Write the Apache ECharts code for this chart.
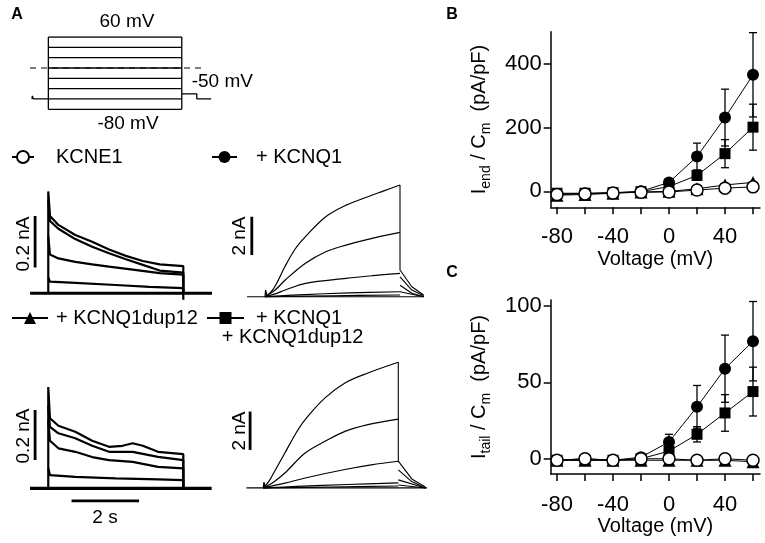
<!DOCTYPE html>
<html lang="en">
<head>
<meta charset="UTF-8">
<title>KCNE1 / KCNQ1 currents</title>
<script src="https://cdn.jsdelivr.net/npm/echarts@6/dist/echarts.min.js"></script>
<style>
  html, body { margin: 0; padding: 0; background: #fff; }
  #chart { width: 765px; height: 543px; }
</style>
</head>
<body>
<div id="chart"></div>
<script>
// ---- data ----
var voltages = [-80, -60, -40, -20, 0, 20, 40, 60];
var voltTicks = [-80, -60, -40, -20, 0, 20, 40, 60];
var voltLabels = [-80, -40, 0, 40];

// panel B: I_end / Cm (pA/pF)
var endKCNE1 = [-10, -8, -5, -3, -2, 4, 10, 14];
var endDup12 = [-12, -10, -6, -2, 0, 8, 20, 28];
var endKCNQ1 = [-8, -7, -5, 0, 28, 109, 231, 365];
var endKCNQ1Err = [3, 3, 3, 3, 6, 42, 89, 132];
var endCombo = [-6, -6, -4, -1, 15, 50, 118, 201];
var endComboErr = [3, 3, 3, 3, 5, 15, 44, 72];

// panel C: I_tail / Cm (pA/pF)
var tailKCNE1 = [-1, 0, -1, 0, 0, -1, 0, -1];
var tailDup12 = [-1, -1, -1, -1, -1, -1, -1, -2];
var tailKCNQ1 = [-1, 0, -1, 1, 11, 34, 59, 77];
var tailKCNQ1Err = [1, 1, 1, 1, 5, 14, 22, 26];
var tailCombo = [-1, -1, -1, 0, 5, 16, 30, 44];
var tailComboErr = [1, 1, 1, 1, 2, 5, 12, 16];

// voltage protocol (mV)
var protoLevels = [-80, -60, -40, -20, 0, 20, 40, 60];
var protoHold = [[-0.49, -60], [-0.48, -54], [-0.46, -53], [-0.45, -60], [0, -60]];
var protoTail = [[4, -50], [4.45, -50], [4.45, -60], [4.88, -60]];
var protoZero = [[-0.55, 0], [4.7, 0]];

// current traces [time s, current nA]
// KCNE1 alone
var e1T1 = [[0, 0], [0, 0.395], [0.05, 0.30], [0.3, 0.265], [0.8, 0.226], [1.3, 0.20], [1.8, 0.17], [2.3, 0.145], [2.8, 0.125], [3.3, 0.112], [4, 0.105], [4, -0.025]];
var e1T2 = [[0, 0.36], [0.05, 0.28], [0.3, 0.25], [0.8, 0.21], [1.3, 0.18], [1.8, 0.155], [2.3, 0.132], [2.8, 0.11], [3.3, 0.088], [4, 0.08], [4, 0]];
var e1T3 = [[0, 0.22], [0.05, 0.15], [0.3, 0.135], [0.8, 0.122], [1.3, 0.112], [1.8, 0.103], [2.5, 0.092], [3.3, 0.078], [4, 0.072], [4, 0]];
var e1T4 = [[0, 0.06], [0.05, 0.045], [0.8, 0.04], [2.0, 0.032], [3.0, 0.025], [4, 0.02], [4, 0]];
var e1Base = [[-0.54, 0], [4.85, 0]];
// + KCNQ1 (rising phase, then tail at -50 mV)
var q1Blip = [[0, 0], [0.02, 0.35], [0.06, 0.05]];
var q1T1 = [[0, 0], [0.15, 0.2], [0.3, 0.55], [0.6, 1.6], [0.9, 2.5], [1.2, 3.13], [1.8, 4.17], [2.4, 4.77], [3.05, 5.21], [3.5, 5.5], [4, 5.82]];
var q1T2 = [[0, 0], [0.3, 0.35], [0.6, 0.87], [1.2, 1.74], [1.8, 2.34], [2.4, 2.69], [3.05, 2.99], [4, 3.35]];
var q1T3 = [[0, 0], [0.3, 0.15], [0.6, 0.35], [1.2, 0.7], [2.4, 0.96], [3.2, 1.1], [4, 1.22]];
var q1T4 = [[0, 0], [1, 0.1], [2.5, 0.2], [4, 0.26]];
var q1T5 = [[0, 0], [2, 0.05], [4, 0.09]];
var q1Tail1 = [[4, 5.82], [4, 1.39], [4.35, 0.52], [4.7, 0.09]];
var q1Tail2 = [[4, 1.04], [4.35, 0.35], [4.7, 0.05]];
var q1Tail3 = [[4, 0.6], [4.35, 0.18], [4.7, 0]];
var q1Tail4 = [[4, 0.26], [4, 0.2], [4.7, 0]];
var q1Base = [[-0.53, 0], [4.7, 0]];
// + KCNQ1dup12
var dT1 = [[0, 0], [0, 0.405], [0.05, 0.28], [0.3, 0.25], [0.8, 0.226], [1.3, 0.19], [1.8, 0.166], [2.2, 0.17], [2.5, 0.18], [2.8, 0.17], [3.25, 0.146], [4, 0.137], [4, 0]];
var dT2 = [[0, 0.33], [0.05, 0.246], [0.3, 0.22], [0.8, 0.2], [1.3, 0.17], [1.8, 0.146], [2.5, 0.146], [3.25, 0.126], [4, 0.113], [4, 0]];
var dT3 = [[0, 0.27], [0.05, 0.19], [0.3, 0.16], [0.8, 0.146], [1.3, 0.125], [1.8, 0.113], [2.5, 0.106], [3.25, 0.086], [4, 0.08], [4, 0]];
var dT4 = [[0, 0.08], [0.05, 0.053], [0.8, 0.046], [2.0, 0.04], [3.25, 0.036], [4, 0.033], [4, 0]];
var dBase = [[-0.54, 0], [4.84, 0]];
// + KCNQ1 + KCNQ1dup12
var cBlip = [[0, 0], [0.02, 0.3], [0.06, 0.05]];
var cT1 = [[0, 0], [0.15, 0.3], [0.3, 0.75], [0.64, 1.82], [0.95, 2.8], [1.24, 3.56], [1.83, 4.69], [2.42, 5.47], [3.1, 5.99], [4, 6.55]];
var cT2 = [[0, 0], [0.3, 0.3], [0.64, 0.78], [1.24, 1.82], [1.83, 2.43], [2.42, 2.95], [3.1, 3.3], [4, 3.59]];
var cT3 = [[0, 0], [0.64, 0.25], [1.24, 0.52], [2.42, 0.96], [3.2, 1.2], [4, 1.39]];
var cT4 = [[0, 0], [1, 0.08], [2.5, 0.18], [4, 0.26]];
var cT5 = [[0, 0], [2, 0.05], [4, 0.1]];
var cTail1 = [[4, 6.55], [4, 1.4], [4.4, 0.47], [4.8, 0.05]];
var cTail2 = [[4, 0.94], [4.4, 0.33], [4.8, 0]];
var cTail3 = [[4, 0.42], [4.8, 0]];
var cTail4 = [[4, 0.15], [4.8, 0]];
var cBase = [[-0.5, 0], [4.85, 0]];

// scale bars
var barE1 = [[-0.39, 0.1], [-0.39, 0.3]];     // 0.2 nA
var barQ1 = [[-0.39, 2.17], [-0.39, 4.17]];   // 2 nA
var barD = [[-0.39, 0.113], [-0.39, 0.313]];  // 0.2 nA
var barC = [[-0.39, 1.98], [-0.39, 3.98]];    // 2 nA
var barTime = [[0.69, -0.05], [2.69, -0.05]]; // 2 s

var FONT = "'Liberation Sans', Arial, Helvetica, sans-serif";

// ---- helpers ----
function trace(idx, data, w, dash, smooth) {
    var s = {
        type: 'line', xAxisIndex: idx, yAxisIndex: idx, data: data,
        symbol: 'none', silent: true, z: 1,
        lineStyle: { color: '#000', width: w, type: dash || 'solid' }
    };
    if (smooth) s.smooth = smooth;
    return s;
}
function ivSeries(idx, name, vals, symbol, size, fill) {
    return {
        type: 'line', name: name, xAxisIndex: idx, yAxisIndex: idx,
        data: voltages.map(function (v, i) { return [v, vals[i]]; }),
        symbol: symbol, symbolSize: size, showAllSymbol: true, z: 3,
        itemStyle: { color: fill, borderColor: '#000', borderWidth: fill === '#fff' ? 1.5 : 0 },
        lineStyle: { color: '#000', width: 1 }
    };
}
function errSeries(idx, vals, errs) {
    return {
        type: 'custom', xAxisIndex: idx, yAxisIndex: idx, z: 2, silent: true,
        data: voltages.map(function (v, i) { return [v, vals[i] - errs[i], vals[i] + errs[i]]; }),
        encode: { x: 0, y: [1, 2] },
        renderItem: function (params, api) {
            var x = api.value(0);
            var p1 = api.coord([x, api.value(1)]);
            var p2 = api.coord([x, api.value(2)]);
            var w = 4;
            var st = { stroke: '#000', lineWidth: 1.3 };
            return {
                type: 'group', children: [
                    { type: 'line', shape: { x1: p1[0], y1: p1[1], x2: p2[0], y2: p2[1] }, style: st },
                    { type: 'line', shape: { x1: p1[0] - w, y1: p1[1], x2: p1[0] + w, y2: p1[1] }, style: st },
                    { type: 'line', shape: { x1: p2[0] - w, y1: p2[1], x2: p2[0] + w, y2: p2[1] }, style: st }
                ]
            };
        }
    };
}
function ivX(idx, gap, margin) {
    return {
        type: 'value', gridIndex: idx, min: -84.5, max: 65,
        axisLine: { show: true, onZero: false, lineStyle: { color: '#000', width: 1.5 } },
        axisTick: { show: true, length: 7, customValues: voltTicks, lineStyle: { color: '#000', width: 1.5 } },
        axisLabel: { show: true, customValues: voltLabels, fontSize: 22, color: '#000', fontFamily: FONT, margin: margin },
        splitLine: { show: false },
        name: 'Voltage (mV)', nameLocation: 'middle', nameGap: gap,
        nameTextStyle: { fontSize: 20, color: '#000', fontFamily: FONT }
    };
}
function ivY(idx, min, max, ticks, nameText) {
    return {
        type: 'value', gridIndex: idx, min: min, max: max,
        axisLine: { show: true, onZero: false, lineStyle: { color: '#000', width: 1.5 } },
        axisTick: { show: true, length: 7, customValues: ticks, lineStyle: { color: '#000', width: 1.5 } },
        axisLabel: { show: true, customValues: ticks, fontSize: 22, color: '#000', fontFamily: FONT, margin: 9 },
        splitLine: { show: false },
        name: nameText, nameLocation: 'middle', nameRotate: 90, nameGap: 58,
        nameTextStyle: {
            color: '#000', fontFamily: FONT,
            rich: {
                m: { fontSize: 20, lineHeight: 26, fontFamily: FONT, color: '#000' },
                s: { fontSize: 14, lineHeight: 14, verticalAlign: 'bottom', fontFamily: FONT, color: '#000' }
            }
        }
    };
}
function label(text, x, y, size, opts) {
    opts = opts || {};
    return {
        type: 'text', x: x, y: y, rotation: opts.rot || 0, silent: true,
        style: {
            text: text, fill: '#000', fontSize: size, fontFamily: FONT,
            fontWeight: opts.bold ? 'bold' : 'normal',
            align: opts.align || 'center', verticalAlign: 'middle'
        }
    };
}

// ---- grids: 0 protocol, 1-4 traces, 5 panel B, 6 panel C ----
var grids = [
    { left: 30, top: 37, width: 181.8, height: 72.3 },
    { left: 29.7, top: 190.1, width: 182.3, height: 112.2 },
    { left: 246.4, top: 177.7, width: 182.3, height: 124.8 },
    { left: 29.7, top: 383.3, width: 182.3, height: 120 },
    { left: 244.7, top: 355.5, width: 182.3, height: 138.2 },
    { left: 550.7, top: 31.7, width: 209.3, height: 175.6 },
    { left: 550.7, top: 300, width: 209.3, height: 174 }
];

var xAxes = [
    { type: 'value', gridIndex: 0, min: -0.55, max: 4.9, show: false },
    { type: 'value', gridIndex: 1, min: -0.55, max: 4.85, show: false },
    { type: 'value', gridIndex: 2, min: -0.55, max: 4.85, show: false },
    { type: 'value', gridIndex: 3, min: -0.55, max: 4.85, show: false },
    { type: 'value', gridIndex: 4, min: -0.55, max: 4.85, show: false },
    ivX(5, 36, 19),
    ivX(6, 37, 20)
];
var yAxes = [
    { type: 'value', gridIndex: 0, min: -80, max: 60, show: false },
    { type: 'value', gridIndex: 1, min: -0.035, max: 0.4, show: false },
    { type: 'value', gridIndex: 2, min: -0.3, max: 6.2, show: false },
    { type: 'value', gridIndex: 3, min: -0.06, max: 0.42, show: false },
    { type: 'value', gridIndex: 4, min: -0.3, max: 6.9, show: false },
    ivY(5, -50, 500, [0, 200, 400], '{m|I}{s|end}{m| / C}{s|m}{m|  (pA/pF)}'),
    ivY(6, -10, 104, [0, 50, 100], '{m|I}{s|tail}{m| / C}{s|m}{m|  (pA/pF)}')
];

var series = [];
// protocol
protoLevels.forEach(function (L) { series.push(trace(0, [[0, L], [4, L]], 1.3)); });
series.push(trace(0, [[0, -80], [0, 60]], 1.3));
series.push(trace(0, [[4, -80], [4, 60]], 1.3));
series.push(trace(0, protoHold, 1.3));
series.push(trace(0, protoTail, 1.3));
series.push(trace(0, protoZero, 1, [6, 5]));
// traces
series.push(trace(1, e1Base, 3));
[e1T4, e1T3, e1T2, e1T1].forEach(function (d) { series.push(trace(1, d, 2.2)); });
series.push(trace(2, q1Base, 1.2));
series.push(trace(2, q1Blip, 1.2));
[q1T5, q1T4, q1T3, q1T2, q1T1].forEach(function (d) { series.push(trace(2, d, 1.2, null, 0.35)); });
[q1Tail1, q1Tail2, q1Tail3, q1Tail4].forEach(function (d) { series.push(trace(2, d, 1.1)); });
series.push(trace(3, dBase, 3.2));
[dT4, dT3, dT2, dT1].forEach(function (d) { series.push(trace(3, d, 2.2)); });
series.push(trace(4, cBase, 1.2));
series.push(trace(4, cBlip, 1.2));
[cT5, cT4, cT3, cT2, cT1].forEach(function (d) { series.push(trace(4, d, 1.2, null, 0.35)); });
[cTail1, cTail2, cTail3, cTail4].forEach(function (d) { series.push(trace(4, d, 1.1)); });
// scale bars
series.push(trace(1, barE1, 2.8));
series.push(trace(2, barQ1, 2.8));
series.push(trace(3, barD, 2.8));
series.push(trace(4, barC, 2.8));
series.push(trace(3, barTime, 2.8));

// panel B
series.push(errSeries(5, endKCNQ1, endKCNQ1Err));
series.push(errSeries(5, endCombo, endComboErr));
series.push(ivSeries(5, '+ KCNQ1dup12', endDup12, 'triangle', 13, '#000'));
series.push(ivSeries(5, '+ KCNQ1 + KCNQ1dup12', endCombo, 'rect', 11, '#000'));
series.push(ivSeries(5, '+ KCNQ1', endKCNQ1, 'circle', 12, '#000'));
series.push(ivSeries(5, 'KCNE1', endKCNE1, 'circle', 12, '#fff'));
// panel C
series.push(errSeries(6, tailKCNQ1, tailKCNQ1Err));
series.push(errSeries(6, tailCombo, tailComboErr));
series.push(ivSeries(6, '+ KCNQ1dup12', tailDup12, 'triangle', 13, '#000'));
series.push(ivSeries(6, '+ KCNQ1 + KCNQ1dup12', tailCombo, 'rect', 11, '#000'));
series.push(ivSeries(6, '+ KCNQ1', tailKCNQ1, 'circle', 12, '#000'));
series.push(ivSeries(6, 'KCNE1', tailKCNE1, 'circle', 12, '#fff'));

function legendAt(name, left, top, w, pad, fmt) {
    var l = {
        data: [name], left: left, top: top, padding: 0, orient: 'horizontal',
        itemWidth: w, itemHeight: 15, selectedMode: false,
        textStyle: { fontSize: 20, color: '#000', fontFamily: FONT, padding: [0, 0, 0, pad] }
    };
    if (fmt) l.formatter = fmt;
    return l;
}

var option = {
    animation: false,
    backgroundColor: '#fff',
    grid: grids,
    xAxis: xAxes,
    yAxis: yAxes,
    legend: [
        legendAt('KCNE1', 11, 147, 22, 17),
        legendAt('+ KCNQ1', 211, 147, 25, 14),
        legendAt('+ KCNQ1dup12', 11, 308, 36, 3),
        legendAt('+ KCNQ1 + KCNQ1dup12', 206, 308, 37, 7, function () { return '+ KCNQ1'; })
    ],
    graphic: [
        label('A', 17, 15, 16, { bold: true }),
        label('B', 452, 15, 16, { bold: true }),
        label('C', 452, 273, 16, { bold: true }),
        label('60 mV', 127, 22, 19),
        label('-80 mV', 128, 124, 19),
        label('-50 mV', 191.7, 82, 19, { align: 'left' }),
        label('0.2 nA', 24, 244, 19, { rot: Math.PI / 2 }),
        label('2 nA', 240, 236, 19, { rot: Math.PI / 2 }),
        label('0.2 nA', 24, 436, 19, { rot: Math.PI / 2 }),
        label('2 nA', 240, 431, 19, { rot: Math.PI / 2 }),
        label('2 s', 105, 518, 19),
        label('+ KCNQ1dup12', 221.7, 337, 20, { align: 'left' })
    ],
    series: series
};

var myChart = echarts.init(document.getElementById('chart'));
myChart.setOption(option);
</script>
</body>
</html>
